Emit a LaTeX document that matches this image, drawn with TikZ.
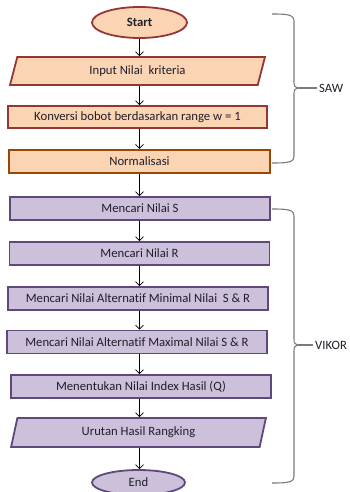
\documentclass[tikz,border=0pt]{standalone}
\usepackage{fontspec}
\setmainfont{Carlito}[Ligatures=NoCommon]
\usetikzlibrary{shapes.geometric,arrows.meta}
\definecolor{peach}{HTML}{FBD4B4}
\definecolor{redb}{HTML}{943634}
\definecolor{orab}{HTML}{984806}
\definecolor{lilac}{HTML}{CCC0DA}
\definecolor{purb}{HTML}{5F497A}
\definecolor{txt}{HTML}{1F1F2A}
\definecolor{brc}{HTML}{7A7A7A}
\tikzset{
  base/.style={font=\fontsize{12.7}{14}\selectfont, text=txt, inner sep=0pt},
  sawbox/.style={base, rectangle, draw=redb, fill=peach, line width=1.8pt, minimum height=22pt},
  normbox/.style={base, rectangle, draw=orab, fill=peach, line width=2.4pt, minimum height=23pt},
  vikbox/.style={base, rectangle, draw=purb, fill=lilac, line width=1.8pt, minimum height=23pt},
  io/.style={base, trapezium, trapezium left angle=75, trapezium right angle=105, trapezium stretches=true, line width=1.8pt},
  term/.style={base, ellipse, line width=1.8pt},
  arr/.style={draw=black, line width=0.7pt, -{Straight Barb[length=4pt,width=8pt,line width=0.7pt]}},
  brace/.style={draw=brc, line width=1.1pt},
  lbl/.style={base, anchor=west, text=txt, inner xsep=2pt}
}
\begin{document}
\begin{tikzpicture}[x=1pt,y=-1pt]
\useasboundingbox (0,0) rectangle (349,492);
\node[term, draw=redb, fill=peach, minimum width=95pt, minimum height=31pt, font=\fontsize{12.7}{14}\selectfont\bfseries] (start) at (139.5,22.5) {Start};
\node[io, draw=redb, fill=peach, minimum width=255pt, minimum height=28pt] (input) at (137.5,71) {Input Nilai\ \ kriteria};
\node[sawbox, minimum width=259pt] (konv) at (137.5,117) {Konversi bobot berdasarkan range w = 1};
\node[normbox, minimum width=261pt] (norm) at (139.5,161.5) {Normalisasi};
\node[vikbox, minimum width=260pt] (ns) at (140,208.5) {Mencari Nilai S};
\node[vikbox, minimum width=260pt] (nr) at (139.5,253.5) {Mencari Nilai R};
\node[vikbox, minimum width=260pt] (nmin) at (138,298.5) {Mencari Nilai Alternatif Minimal Nilai\ \ S \& R};
\node[vikbox, minimum width=260pt] (nmax) at (137,342) {Mencari Nilai Alternatif Maximal Nilai S \& R};
\node[vikbox, minimum width=260pt] (nq) at (141,386.5) {Menentukan Nilai Index Hasil (Q)};
\node[io, draw=purb, fill=lilac, minimum width=255pt, minimum height=29pt] (rank) at (138.5,432.5) {Urutan Hasil Rangking};
\node[term, draw=purb, fill=lilac, minimum width=93pt, minimum height=25pt] (end) at (138.5,482.5) {End};

\draw[arr] (start.south) -- (start.south |- input.north);
\draw[arr] (input.south -| start.south) -- (start.south |- konv.north);
\draw[arr] (konv.south -| start.south) -- (start.south |- norm.north);
\draw[arr] (norm.south -| start.south) -- (start.south |- ns.north);
\draw[arr] (ns.south -| start.south) -- (start.south |- nr.north);
\draw[arr] (nr.south -| start.south) -- (start.south |- nmin.north);
\draw[arr] (nmin.south -| start.south) -- (start.south |- nmax.north);
\draw[arr] (nmax.south -| start.south) -- (start.south |- nq.north);
\draw[arr] (nq.south -| start.south) -- (start.south |- rank.north);
\draw[arr] (rank.south -| start.south) -- (start.south |- end.north);

% SAW brace
\coordinate (sawtop) at (272,14);
\coordinate (sawbot) at (272,163);
\coordinate (sawtip) at (298,88);
\node[lbl] (saw) at (317,88) {SAW};
\draw[brace] (sawtop) .. controls (290,14) and (294,15) .. (294,22) -- (294,82)
  .. controls (294,86) and (295,88) .. (sawtip)
  .. controls (295,88) and (294,90) .. (294,94) -- (294,156)
  .. controls (294,162) and (290,163) .. (sawbot);
\draw[brace] (sawtip) -- (saw.west);

% VIKOR brace
\coordinate (viktop) at (272,209);
\coordinate (vikbot) at (272,483);
\coordinate (viktip) at (298,345);
\node[lbl] (vik) at (313,345) {VIKOR};
\draw[brace] (viktop) .. controls (290,209) and (294,210) .. (294,217) -- (294,339)
  .. controls (294,343) and (295,345) .. (viktip)
  .. controls (295,345) and (294,347) .. (294,351) -- (294,476)
  .. controls (294,482) and (290,483) .. (vikbot);
\draw[brace] (viktip) -- (vik.west);
\end{tikzpicture}
\end{document}
